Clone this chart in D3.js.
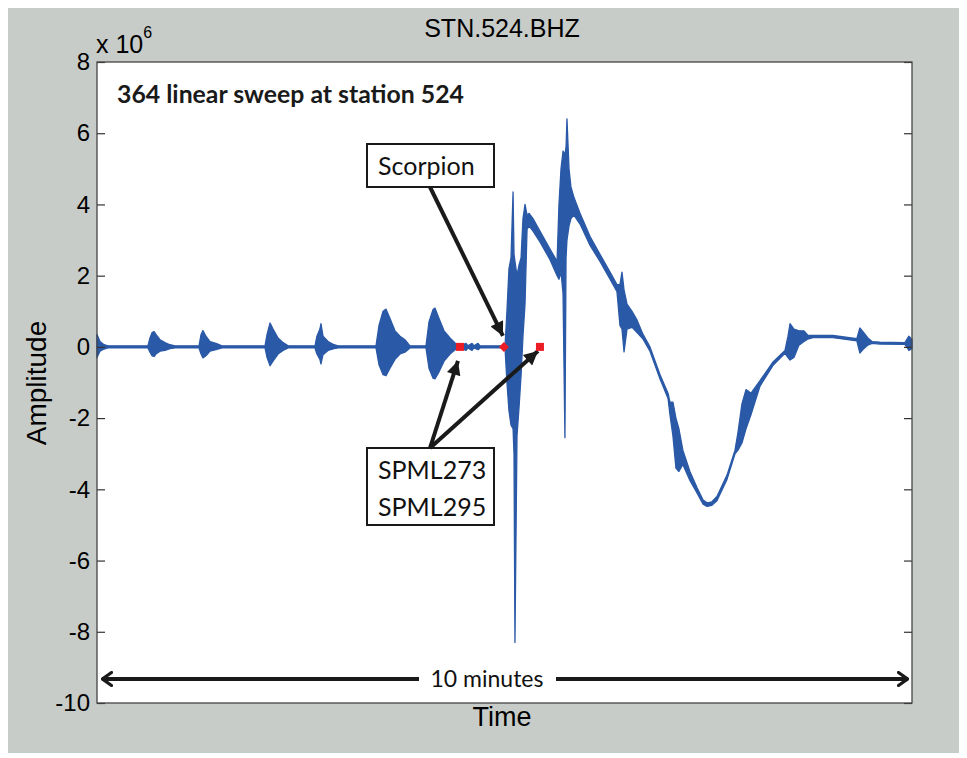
<!DOCTYPE html>
<html>
<head>
<meta charset="utf-8">
<script src="https://cdn.jsdelivr.net/npm/d3@7"></script>
<style>
  body { margin: 0; background: #fff; }
  svg { display: block; }
</style>
</head>
<body>
<svg id="chart" width="967" height="758"></svg>
<script>
// Seismogram envelope: time (s), upper / lower amplitude (x 10^6)
const times = [0, 2.2, 5.2, 8.1, 37.5, 39.0, 40.5, 42.0, 43.4, 46.4, 50.1, 53.7, 57.4,
  75.1, 76.6, 78.0, 80.2, 83.2, 87.6, 92.0,
  123.7, 125.2, 127.4, 129.6, 133.3, 137.0, 140.7,
  160.5, 161.9, 164.1, 164.9, 166.4, 170.1, 174.5, 177.5,
  205.4, 207.6, 210.6, 212.8, 215.7, 219.4, 223.1, 226.7, 230.4,
  242.2, 244.4, 247.4, 248.8, 251.8, 255.5, 259.9, 264.3, 267.2,
  271.7, 273.1, 276.1, 277.5, 280.5, 282.0,
  300.4, 301.8, 303.3, 304.8, 306.3, 307.0, 307.7, 309.2, 310.7, 312.2, 313.6, 315.1,
  316.6, 318.1, 321.0, 326.1, 333.5, 338.7,
  340.1, 341.6, 343.1, 344.5, 345.3, 346.0, 347.5, 348.9, 351.1,
  355.6, 363.0, 370.3, 377.7, 382.8,
  385.0, 386.5, 388.0, 390.2, 393.9, 397.6, 402.0,
  407.1, 414.5, 420.4, 421.8, 424.0, 426.2, 428.4, 431.3, 436.5, 441.7,
  446.2, 449.1, 452.7, 456.4, 463.8, 469.7,
  471.9, 474.8, 477.8, 481.5, 485.2, 488.1, 497.7,
  506.5, 508.7, 510.2, 513.1, 516.8, 520.5, 523.4, 527.1, 541.8,
  559.4, 561.6, 564.5, 567.5, 570.6, 576.4, 594.8, 597.7, 600];
const upper = [0.35, 0.15, 0.06, 0.03, 0.03, 0.25, 0.4, 0.43, 0.35, 0.2, 0.12, 0.06, 0.03,
  0.03, 0.35, 0.46, 0.3, 0.15, 0.1, 0.03,
  0.03, 0.35, 0.67, 0.5, 0.25, 0.12, 0.03,
  0.03, 0.3, 0.5, 0.65, 0.3, 0.15, 0.06, 0.03,
  0.03, 0.6, 1.0, 1.06, 0.8, 0.45, 0.3, 0.2, 0.03,
  0.03, 0.7, 1.05, 1.09, 0.8, 0.45, 0.25, 0.08, 0.03,
  0.1, 0.03, 0.1, 0.03, 0.1, 0.03,
  0.03, 1.0, 2.2, 2.5, 4.35, 2.6, 2.4, 2.0, 2.3, 2.5, 3.6, 4.0,
  3.7, 3.75, 3.6, 3.25, 2.75, 2.4,
  4.0, 5.0, 5.5, 5.4, 5.6, 6.4, 5.0, 4.5, 4.2,
  3.75, 3.1, 2.6, 2.1, 1.75,
  1.75, 2.1, 1.6, 1.2, 1.0, 0.75, 0.35,
  0.0, -0.78, -1.3, -1.55, -1.55, -2.0, -2.3, -2.9, -3.5, -3.95,
  -4.3, -4.38, -4.35, -4.2, -3.6, -2.9,
  -2.4, -1.6, -1.2, -1.3, -1.1, -0.95, -0.42,
  -0.1, 0.3, 0.65, 0.5, 0.45, 0.45, 0.32, 0.32, 0.32,
  0.23, 0.53, 0.4, 0.25, 0.15, 0.13, 0.12, 0.3, 0.2];
const lower = [-0.3, -0.12, -0.06, -0.03, -0.03, -0.15, -0.25, -0.27, -0.2, -0.12, -0.1, -0.05, -0.03,
  -0.03, -0.2, -0.31, -0.25, -0.12, -0.08, -0.03,
  -0.03, -0.3, -0.53, -0.4, -0.2, -0.1, -0.03,
  -0.03, -0.2, -0.35, -0.48, -0.22, -0.1, -0.05, -0.03,
  -0.03, -0.5, -0.78, -0.81, -0.6, -0.35, -0.2, -0.15, -0.03,
  -0.03, -0.6, -0.88, -0.9, -0.7, -0.4, -0.2, -0.06, -0.03,
  -0.1, -0.03, -0.1, -0.03, -0.08, -0.03,
  -0.03, -1.0, -1.8, -2.2, -2.3, -3.0, -8.3, -2.5, -1.7, -0.8, 0.3, 1.2,
  3.3, 3.4, 3.25, 2.95, 2.45, 2.0,
  1.9, 2.1, 1.5, -2.55, 2.5, 3.0, 3.4, 3.6, 3.7,
  3.45, 2.85, 2.4, 1.9, 1.55,
  0.6, 0.5, -0.14, 0.5, 0.55, 0.4, 0.22,
  -0.12, -0.9, -1.45, -1.9, -2.5, -3.4, -3.5, -3.3, -3.75, -4.1,
  -4.42, -4.48, -4.45, -4.32, -3.72, -3.0,
  -2.9, -2.7, -2.3, -1.9, -1.45, -1.1, -0.52,
  -0.18, -0.3, -0.37, -0.3, 0.05, 0.15, 0.22, 0.26, 0.26,
  0.17, -0.17, -0.05, 0.05, 0.1, 0.08, 0.07, -0.1, -0.05];

const yTicks = [-10, -8, -6, -4, -2, 0, 2, 4, 6, 8];

// picked arrivals (red markers on the trace)
const pickNames = ["SPML273", "Scorpion", "SPML295"];
const pickTimes = [267.2, 299.6, 326.1];
const pickShapes = ["square", "diamond", "square"];

const W = 967, H = 758;
const margin = { left: 97, top: 62, right: 55, bottom: 55 };
const traceColor = "#2a59a7";
const ink = "#1a1a1a";
const axisFont = "Liberation Sans, Arial, sans-serif";
const annoFont = "Lato, Open Sans, sans-serif";

const svg = d3.select("#chart");

// gray figure background
svg.append("rect")
    .attr("x", 8).attr("y", 8)
    .attr("width", 951).attr("height", 745)
    .attr("fill", "#c8ccc8");

const x = d3.scaleLinear().domain([0, 600]).range([margin.left, W - margin.right]);
const y = d3.scaleLinear().domain([-10, 8]).range([H - margin.bottom, margin.top]);

// plot area
svg.append("rect")
    .attr("x", x(0)).attr("y", y(8))
    .attr("width", x(600) - x(0)).attr("height", y(-10) - y(8))
    .attr("fill", "#fff");

// trace drawn as its min/max envelope
const data = times.map((t, i) => ({ t: t, hi: upper[i], lo: lower[i] }));
const area = d3.area()
    .x(d => x(d.t))
    .y0(d => y(d.lo))
    .y1(d => y(d.hi));

svg.append("path")
    .datum(data)
    .attr("d", area)
    .attr("fill", traceColor)
    .attr("stroke", traceColor)
    .attr("stroke-width", 1.3)
    .attr("stroke-linejoin", "round");

// axes: inward ticks left and right, no x ticks
const fmt = d => String(d);
const leftAxis = svg.append("g")
    .attr("transform", `translate(${x(0)},0)`)
    .call(d3.axisLeft(y).tickValues(yTicks).tickSize(-8).tickPadding(7).tickFormat(fmt));
const rightAxis = svg.append("g")
    .attr("transform", `translate(${x(600)},0)`)
    .call(d3.axisRight(y).tickValues(yTicks).tickSize(-8).tickFormat(""));

[leftAxis, rightAxis].forEach(g => {
    g.select(".domain").remove();
    g.selectAll(".tick line").attr("stroke", "#333").attr("stroke-width", 1.2);
});
leftAxis.selectAll(".tick text")
    .attr("font-family", axisFont)
    .attr("font-size", 24)
    .attr("fill", "#000");

// box outline
svg.append("rect")
    .attr("x", x(0)).attr("y", y(8))
    .attr("width", x(600) - x(0)).attr("height", y(-10) - y(8))
    .attr("fill", "none")
    .attr("stroke", "#444")
    .attr("stroke-width", 1.3);

// exponent label
const expo = svg.append("text")
    .attr("x", 96).attr("y", 53)
    .attr("font-family", axisFont)
    .attr("font-size", 25)
    .attr("fill", "#000");
expo.append("tspan").text("x 10");
expo.append("tspan").attr("dy", -15).attr("font-size", 16).text("6");

// title and axis labels
svg.append("text")
    .attr("x", 502).attr("y", 37)
    .attr("text-anchor", "middle")
    .attr("font-family", axisFont)
    .attr("font-size", 25)
    .text("STN.524.BHZ");

svg.append("text")
    .attr("x", 502).attr("y", 726)
    .attr("text-anchor", "middle")
    .attr("font-family", axisFont)
    .attr("font-size", 27)
    .text("Time");

svg.append("text")
    .attr("transform", "translate(46,383) rotate(-90)")
    .attr("text-anchor", "middle")
    .attr("font-family", axisFont)
    .attr("font-size", 28)
    .text("Amplitude");

// annotation text
svg.append("text")
    .attr("x", 117).attr("y", 103)
    .attr("font-family", annoFont)
    .attr("font-weight", "bold")
    .attr("font-size", 24.8)
    .attr("fill", "#1a1a1a")
    .text("364 linear sweep at station 524");

// arrow markers
const defs = svg.append("defs");
defs.append("marker")
    .attr("id", "head")
    .attr("viewBox", "0 0 10 10")
    .attr("refX", 10).attr("refY", 5)
    .attr("markerUnits", "userSpaceOnUse")
    .attr("markerWidth", 16).attr("markerHeight", 14)
    .attr("orient", "auto")
  .append("path")
    .attr("d", "M0,0 L10,5 L0,10 Z")
    .attr("fill", ink);

defs.append("marker")
    .attr("id", "chev")
    .attr("viewBox", "0 0 12 16")
    .attr("refX", 11).attr("refY", 8)
    .attr("markerUnits", "userSpaceOnUse")
    .attr("markerWidth", 12).attr("markerHeight", 16)
    .attr("orient", "auto-start-reverse")
  .append("path")
    .attr("d", "M1.5,1.5 L10.5,8 L1.5,14.5")
    .attr("fill", "none")
    .attr("stroke", ink)
    .attr("stroke-width", 3.2)
    .attr("stroke-linecap", "round");

// labelled boxes
function labelBox(x0, y0, w, h, lines, lineGap) {
    svg.append("rect")
        .attr("x", x0).attr("y", y0)
        .attr("width", w).attr("height", h)
        .attr("fill", "#fff")
        .attr("stroke", ink)
        .attr("stroke-width", 2);
    lines.forEach((s, i) => {
        svg.append("text")
            .attr("x", x0 + 11).attr("y", y0 + 31 + i * lineGap)
            .attr("font-family", annoFont)
            .attr("font-size", 25)
            .attr("fill", "#111")
            .text(s);
    });
}

function arrow(x1, y1, x2, y2) {
    svg.append("line")
        .attr("x1", x1).attr("y1", y1)
        .attr("x2", x2).attr("y2", y2)
        .attr("stroke", ink)
        .attr("stroke-width", 4)
        .attr("marker-end", "url(#head)");
}

labelBox(367, 144, 127, 43, ["Scorpion"], 0);
labelBox(367, 448, 127, 77, ["SPML273", "SPML295"], 37);

arrow(430, 187, x(pickTimes[1]) - 1, y(0) - 11);
arrow(430, 448, x(pickTimes[0]) - 2, y(0) + 14);
arrow(430, 448, x(pickTimes[2]) - 2, y(0) + 4);

// red pick markers
pickTimes.forEach((t, i) => {
    const px = x(t), py = y(0);
    if (pickShapes[i] === "square") {
        svg.append("rect")
            .attr("x", px - 4).attr("y", py - 4)
            .attr("width", 8).attr("height", 8)
            .attr("fill", "#ec1c24");
    } else {
        svg.append("path")
            .attr("d", `M${px - 5},${py} L${px},${py - 5} L${px + 5},${py} L${px},${py + 5} Z`)
            .attr("fill", "#ec1c24");
    }
});

// "10 minutes" span arrow
const spanY = 679;
svg.append("line")
    .attr("x1", x(0) + 5).attr("y1", spanY)
    .attr("x2", 419).attr("y2", spanY)
    .attr("stroke", ink).attr("stroke-width", 4)
    .attr("marker-start", "url(#chev)");
svg.append("line")
    .attr("x1", 556).attr("y1", spanY)
    .attr("x2", x(600) - 4).attr("y2", spanY)
    .attr("stroke", ink).attr("stroke-width", 4)
    .attr("marker-end", "url(#chev)");
svg.append("text")
    .attr("x", 487).attr("y", 687)
    .attr("text-anchor", "middle")
    .attr("font-family", annoFont)
    .attr("font-size", 23)
    .attr("fill", "#111")
    .text("10 minutes");
</script>
</body>
</html>
